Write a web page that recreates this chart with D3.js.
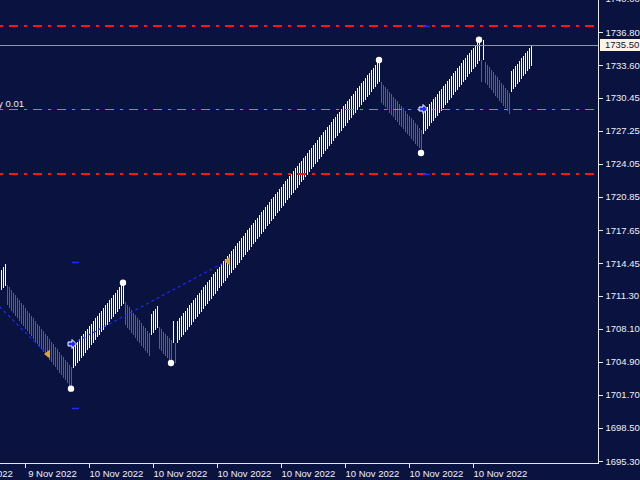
<!DOCTYPE html>
<html><head><meta charset="utf-8">
<script src="https://cdn.jsdelivr.net/npm/d3@7"></script>
<style>html,body{margin:0;padding:0;background:#0a1240;overflow:hidden}</style>
</head><body>
<svg id="c" width="640" height="480"></svg>
<script>
// ---- data ----
const barHigh = [
1713.80,1714.05,1714.35,
1712.35,1712.10,1711.85,1711.60,1711.35,1711.10,1710.85,1710.60,1710.35,1710.10,1709.85,1709.60,1709.35,1709.10,1708.85,1708.60,1708.35,1708.10,1707.85,1707.60,1707.35,1707.10,1706.85,1706.60,1706.35,1706.10,1705.85,1705.60,1705.35,1705.10,1704.85,1704.60,1704.35,
1706.35,1706.60,1706.85,1707.10,1707.35,1707.60,1707.85,1708.10,1708.35,1708.60,1708.85,1709.10,1709.35,1709.60,1709.85,1710.10,1710.35,1710.60,1710.85,1711.10,1711.35,1711.60,1711.85,1712.10,1712.35,1712.60,
1710.65,1710.40,1710.15,1709.90,1709.65,1709.40,1709.15,1708.90,1708.65,1708.40,1708.15,1707.90,1707.65,
1709.50,1709.80,1710.05,1710.30,
1708.25,1708.05,1707.80,1707.60,1707.40,1707.20,1707.00,
1708.85,1706.70,
1708.85,1709.10,1709.35,1709.60,1709.85,1710.10,1710.35,1710.60,1710.85,1711.10,
1711.35,1711.60,1711.85,1712.10,1712.35,1712.60,1712.85,1713.10,1713.35,1713.60,
1713.85,1714.10,1714.35,1714.60,1714.85,1715.10,1715.35,1715.60,1715.85,1716.10,
1716.35,1716.60,1716.85,1717.10,1717.35,1717.60,1717.85,1718.10,1718.35,1718.60,
1718.85,1719.10,1719.35,1719.60,1719.85,1720.10,1720.35,1720.60,1720.85,1721.10,
1721.35,1721.60,1721.85,1722.10,1722.35,1722.60,1722.85,1723.10,1723.35,1723.60,
1723.85,1724.10,1724.35,1724.60,1724.85,1725.10,1725.35,1725.60,1725.85,1726.10,
1726.35,1726.60,1726.85,1727.10,1727.35,1727.60,1727.85,1728.10,1728.35,1728.60,
1728.85,1729.10,1729.35,1729.60,1729.85,1730.10,1730.35,1730.60,1730.85,1731.10,
1731.35,1731.60,1731.85,1732.10,1732.35,1732.60,1732.85,1733.10,1733.35,1733.60,
1733.85,1734.10,
1731.95,1731.70,1731.50,1731.25,1731.00,1730.80,1730.55,1730.30,1730.10,1729.85,1729.60,1729.40,1729.15,1728.90,1728.70,1728.45,1728.25,1728.00,1727.80,1727.55,1727.30,
1729.05,1729.30,1729.55,1729.80,1730.05,1730.30,1730.55,1730.80,1731.05,1731.30,
1731.55,1731.80,1732.05,1732.30,1732.55,1732.80,1733.05,1733.30,1733.55,1733.80,
1734.05,1734.30,1734.55,1734.80,1735.05,1735.30,1735.55,1735.80,1736.05,
1734.10,1736.05,
1733.90,1733.65,1733.40,1733.15,1732.90,1732.65,1732.40,1732.15,1731.90,1731.65,1731.40,1731.15,1730.90,
1733.00,1733.25,1733.50,1733.75,1734.00,1734.25,1734.50,1734.75,1735.00,1735.25,1735.50
];
const barLow = [
1711.85,1712.05,1712.25,
1710.35,1710.10,1709.85,1709.60,1709.35,1709.10,1708.85,1708.60,1708.35,1708.10,1707.85,1707.60,1707.35,1707.10,1706.85,1706.60,1706.35,1706.10,1705.85,1705.60,1705.35,1705.10,1704.85,1704.60,1704.35,1704.10,1703.85,1703.60,1703.35,1703.10,1702.85,1702.60,1702.35,
1704.25,1704.50,1704.75,1705.00,1705.25,1705.50,1705.75,1706.00,1706.25,1706.50,1706.75,1707.00,1707.25,1707.50,1707.75,1708.00,1708.25,1708.50,1708.75,1709.00,1709.25,1709.50,1709.75,1710.00,1710.25,1710.50,
1708.45,1708.20,1707.95,1707.70,1707.45,1707.20,1706.95,1706.70,1706.45,1706.20,1705.95,1705.70,1705.45,
1707.45,1707.70,1707.95,1708.20,
1706.10,1705.90,1705.65,1705.45,1705.25,1705.05,1704.80,
1706.70,1704.75,
1706.75,1707.00,1707.25,1707.50,1707.75,1708.00,1708.25,1708.50,1708.75,1709.00,
1709.25,1709.50,1709.75,1710.00,1710.25,1710.50,1710.75,1711.00,1711.25,1711.50,
1711.75,1712.00,1712.25,1712.50,1712.75,1713.00,1713.25,1713.50,1713.75,1714.00,
1714.25,1714.50,1714.75,1715.00,1715.25,1715.50,1715.75,1716.00,1716.25,1716.50,
1716.75,1717.00,1717.25,1717.50,1717.75,1718.00,1718.25,1718.50,1718.75,1719.00,
1719.25,1719.50,1719.75,1720.00,1720.25,1720.50,1720.75,1721.00,1721.25,1721.50,
1721.75,1722.00,1722.25,1722.50,1722.75,1723.00,1723.25,1723.50,1723.75,1724.00,
1724.25,1724.50,1724.75,1725.00,1725.25,1725.50,1725.75,1726.00,1726.25,1726.50,
1726.75,1727.00,1727.25,1727.50,1727.75,1728.00,1728.25,1728.50,1728.75,1729.00,
1729.25,1729.50,1729.75,1730.00,1730.25,1730.50,1730.75,1731.00,1731.25,1731.50,
1731.75,1732.00,
1729.95,1729.70,1729.50,1729.25,1729.00,1728.80,1728.55,1728.30,1728.10,1727.85,1727.60,1727.40,1727.15,1726.90,1726.70,1726.45,1726.25,1726.00,1725.80,1725.55,1725.10,
1726.95,1727.20,1727.45,1727.70,1727.95,1728.20,1728.45,1728.70,1728.95,1729.20,
1729.45,1729.70,1729.95,1730.20,1730.45,1730.70,1730.95,1731.20,1731.45,1731.70,
1731.95,1732.20,1732.45,1732.70,1732.95,1733.20,1733.45,1733.70,1733.95,
1731.95,1734.10,
1731.90,1731.65,1731.40,1731.15,1730.90,1730.65,1730.40,1730.15,1729.90,1729.65,1729.40,1729.15,1728.90,
1731.00,1731.25,1731.50,1731.75,1732.00,1732.25,1732.50,1732.75,1733.00,1733.25,1733.50
];
// bar direction runs: u = up (white), d = down (blue)
const barDirRuns = [["u",3],["d",33],["u",26],["d",13],["u",4],["d",7],["u",1],["d",1],["u",102],["d",21],["u",29],["d",1],["u",1],["d",13],["u",11]];

const priceTicks = [1695.30,1698.50,1701.70,1704.90,1708.10,1711.30,1714.45,1717.65,1720.85,1724.05,1727.25,1730.45,1733.60,1736.80,1740.00];
const timeTickIdx = [-20,12,44,76,108,140,172,204,236];
const timeTickLabels = [" 9 Nov 2022"," 9 Nov 2022","10 Nov 2022","10 Nov 2022","10 Nov 2022","10 Nov 2022","10 Nov 2022","10 Nov 2022","10 Nov 2022"];

const currentPrice = 1735.50;
const orderOpenPrice = 1729.35;
const orderSL = 1723.06;
const orderTP = 1737.38;
const orderLabel = "buy 0.01";

const zzIdx = [35,61,85,189,210,239];
const zzPrice = [1702.30,1712.55,1704.78,1734.09,1725.10,1736.05];

const tradeOpenIdx = [-5,35.5];
const tradeOpenPrice = [1711.05,1706.62];
const tradeCloseIdx = [23,113];
const tradeClosePrice = [1705.65,1714.65];

const buyArrowIdx = [35.5,211];
const buyArrowPrice = [1706.62,1729.35];

const stopMarkIdx = [35.5,35.5,211,211];
const stopMarkPrice = [1714.55,1700.43,1737.38,1723.06];

// ---- drawing ----
const W = 640, H = 480, plotRight = 598, plotBottom = 463;
const BG = "#0a1240";
const FONT = "'Liberation Sans', Arial, sans-serif";
const svg = d3.select("#c");
svg.append("rect").attr("width", W).attr("height", H).attr("fill", BG);

const x = d3.scaleLinear().domain([0, 265]).range([1, 531]);
const y = d3.scaleLinear().domain([1695.30, 1736.80]).range([461, 32]);

const barDir = [];
barDirRuns.forEach(([d, n]) => { for (let k = 0; k < n; k++) barDir.push(d); });

svg.append("defs").append("clipPath").attr("id", "plot")
  .append("rect").attr("x", 0).attr("y", 0).attr("width", plotRight).attr("height", plotBottom);

const plot = svg.append("g").attr("clip-path", "url(#plot)");

// bars
const bars = barHigh.map((h, i) => ({ i, h, l: barLow[i], d: barDir[i] }));
plot.append("g").attr("shape-rendering", "crispEdges")
  .selectAll("rect").data(bars).join("rect")
  .attr("x", d => x(d.i))
  .attr("width", 1)
  .attr("y", d => Math.round(y(d.h)))
  .attr("height", d => Math.max(1, Math.round(y(d.l)) - Math.round(y(d.h))))
  .attr("fill", d => d.d === "u" ? "#ffffff" : "#1f6ed4");

// level lines
const levels = [
  { p: orderTP, c: "#ff1414", w: 2 },
  { p: orderSL, c: "#ff1414", w: 2 },
  { p: orderOpenPrice, c: "#4cb454", w: 1 }
];
plot.append("g").selectAll("line").data(levels).join("line")
  .attr("x1", 0).attr("x2", plotRight)
  .attr("y1", d => Math.round(y(d.p)) + (d.w === 1 ? 0.5 : 0))
  .attr("y2", d => Math.round(y(d.p)) + (d.w === 1 ? 0.5 : 0))
  .attr("stroke", d => d.c).attr("stroke-width", d => d.w)
  .attr("stroke-dasharray", "9,6,3,6").attr("stroke-dashoffset", 15);

// current price line
plot.append("line")
  .attr("x1", 0).attr("x2", plotRight)
  .attr("y1", Math.round(y(currentPrice)) + 0.5).attr("y2", Math.round(y(currentPrice)) + 0.5)
  .attr("stroke", "#8e94ad").attr("stroke-width", 1);

// order label
plot.append("text").attr("x", 24).attr("y", Math.round(y(orderOpenPrice)) - 2)
  .attr("text-anchor", "end").attr("font-family", FONT).attr("font-size", 9.5)
  .attr("fill", "#e8ecf5").text(orderLabel);

// stop markers
plot.append("g").selectAll("line").data(stopMarkIdx.map((d, i) => ({ i: d, p: stopMarkPrice[i] }))).join("line")
  .attr("x1", d => x(d.i)).attr("x2", d => x(d.i) + 7)
  .attr("y1", d => Math.round(y(d.p)) + 0.5).attr("y2", d => Math.round(y(d.p)) + 0.5)
  .attr("stroke", "#1a2cff").attr("stroke-width", 1.5);

// trade lines
const trades = tradeOpenIdx.map((d, i) => ({ oi: d, op: tradeOpenPrice[i], ci: tradeCloseIdx[i], cp: tradeClosePrice[i] }));
plot.append("g").selectAll("line").data(trades).join("line")
  .attr("x1", d => x(d.oi)).attr("y1", d => y(d.op))
  .attr("x2", d => x(d.ci)).attr("y2", d => y(d.cp))
  .attr("stroke", "#1a2cff").attr("stroke-width", 1.2).attr("stroke-dasharray", "3,3");

// close markers (gold triangles pointing left)
plot.append("g").selectAll("path").data(trades).join("path")
  .attr("transform", d => `translate(${x(d.ci)},${y(d.cp)})`)
  .attr("d", "M-3,0 L3,-4.5 L3,4.5 Z")
  .attr("fill", "#e0a33a");

// buy arrows
plot.append("g").selectAll("path").data(buyArrowIdx.map((d, i) => ({ i: d, p: buyArrowPrice[i] }))).join("path")
  .attr("transform", d => `translate(${x(d.i)},${y(d.p)})`)
  .attr("d", "M-4,-2 L0,-2 L0,-4.5 L4.5,0 L0,4.5 L0,2 L-4,2 Z")
  .attr("fill", "#1a2cff").attr("stroke", "#ffffff").attr("stroke-width", 1);

// zigzag dots
plot.append("g").selectAll("circle").data(zzIdx.map((d, i) => ({ i: d, p: zzPrice[i] }))).join("circle")
  .attr("cx", d => x(d.i)).attr("cy", d => y(d.p)).attr("r", 3.2)
  .attr("fill", "#ffffff");

// axes
const yAxis = d3.axisRight(y).tickValues(priceTicks).tickFormat(d3.format(".2f")).tickSize(4).tickPadding(3);
const gy = svg.append("g").attr("transform", `translate(${plotRight + 0.5},0)`).call(yAxis);
gy.select(".domain").remove();
gy.selectAll(".tick line").attr("stroke", "#e8e8e8").attr("shape-rendering", "crispEdges");
gy.selectAll(".tick text").attr("font-family", FONT).attr("font-size", 9.5).attr("fill", "#eef0f8");

const xAxis = d3.axisBottom(x).tickValues(timeTickIdx).tickFormat((d, i) => timeTickLabels[i]).tickSize(4).tickPadding(3);
const gx = svg.append("g").attr("transform", `translate(0,${plotBottom + 0.5})`).call(xAxis);
gx.select(".domain").remove();
gx.selectAll(".tick line").attr("stroke", "#e8e8e8").attr("shape-rendering", "crispEdges");
gx.selectAll(".tick text").attr("font-family", FONT).attr("font-size", 9.5).attr("fill", "#eef0f8")
  .attr("text-anchor", "start").attr("x", 0).style("white-space", "pre");

// frame
svg.append("line").attr("x1", plotRight + 0.5).attr("x2", plotRight + 0.5).attr("y1", 0).attr("y2", plotBottom + 1)
  .attr("stroke", "#e8e8e8").attr("stroke-width", 1);
svg.append("line").attr("x1", 0).attr("x2", plotRight + 1).attr("y1", plotBottom + 0.5).attr("y2", plotBottom + 0.5)
  .attr("stroke", "#e8e8e8").attr("stroke-width", 1);

// current price tag
const cy = Math.round(y(currentPrice));
svg.append("rect").attr("x", plotRight + 2).attr("y", cy - 6).attr("width", W - plotRight - 2).attr("height", 12)
  .attr("fill", "#fff3e6");
svg.append("text").attr("x", 605).attr("y", cy).attr("dy", "0.35em")
  .attr("font-family", FONT).attr("font-size", 9.5).attr("fill", BG).text(d3.format(".2f")(currentPrice));
</script>
</body></html>
